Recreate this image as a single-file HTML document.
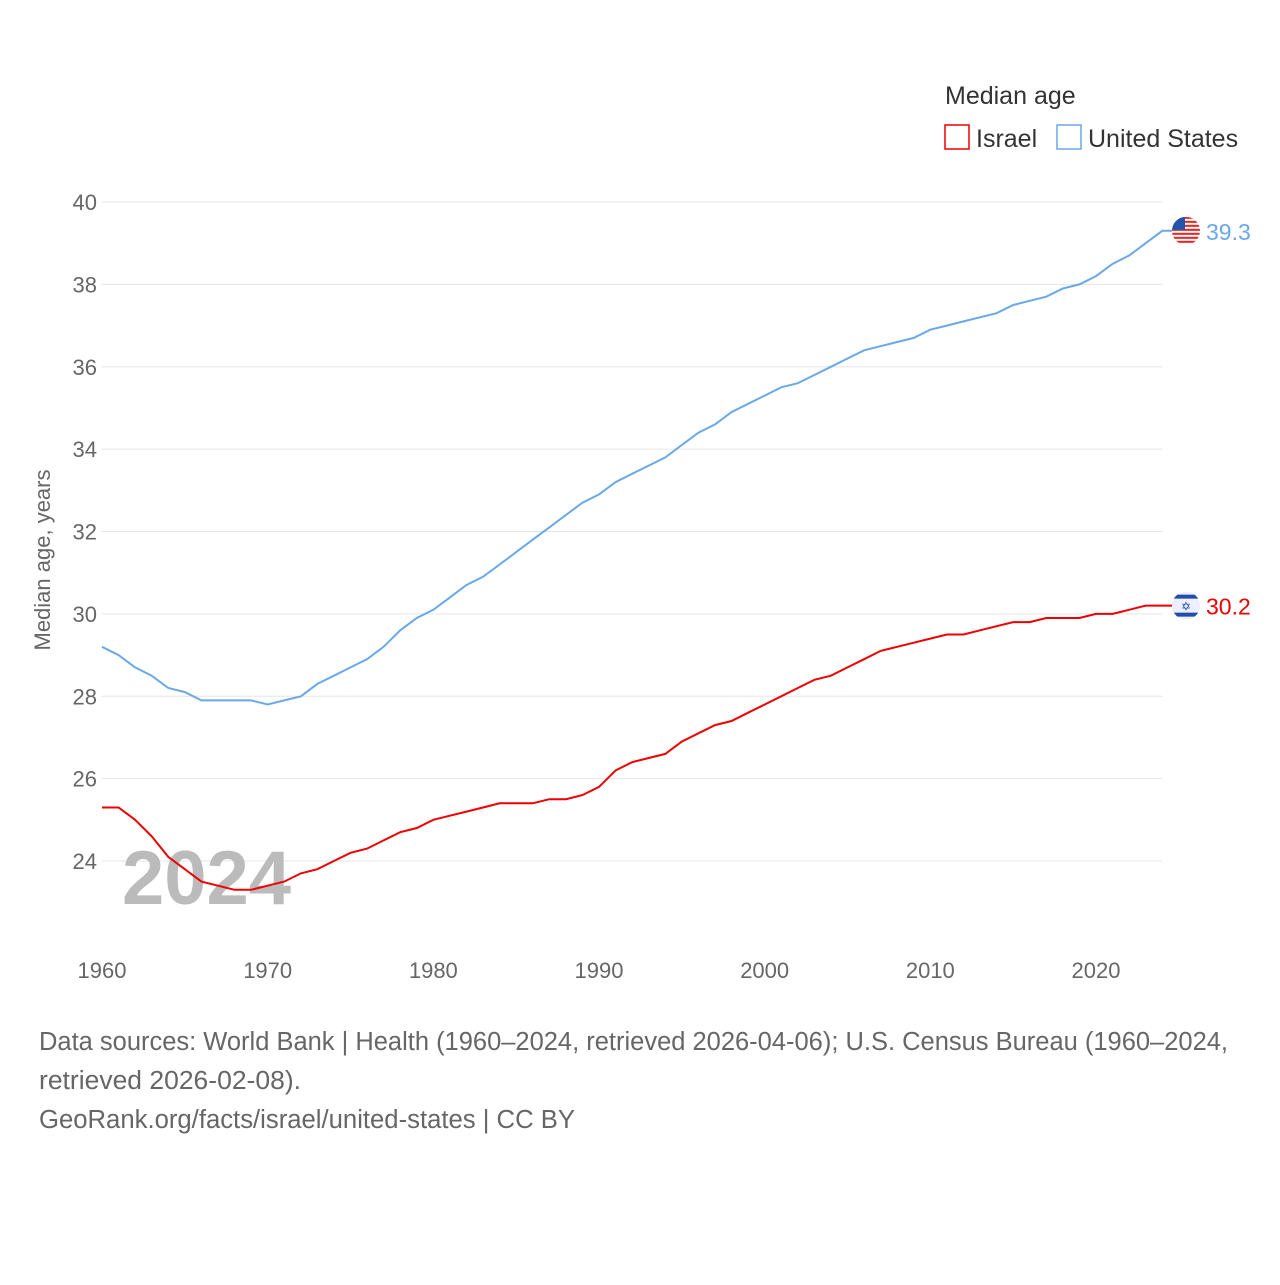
<!DOCTYPE html>
<html><head><meta charset="utf-8">
<style>
body{margin:0;background:#fff;font-family:"Liberation Sans",sans-serif;}
#wrap{position:relative;width:1280px;height:1280px;}
svg text{font-family:"Liberation Sans",sans-serif;}
</style></head>
<body><div id="wrap">
<svg id="chart" width="1280" height="1280"></svg>
</div>
<script>
const years=[];for(let y=1960;y<=2024;y++)years.push(y);
const usValues=[29.2,29.0,28.7,28.5,28.2,28.1,27.9,27.9,27.9,27.9,27.8,27.9,28.0,28.3,28.5,28.7,28.9,29.2,29.6,29.9,30.1,30.4,30.7,30.9,31.2,31.5,31.8,32.1,32.4,32.7,32.9,33.2,33.4,33.6,33.8,34.1,34.4,34.6,34.9,35.1,35.3,35.5,35.6,35.8,36.0,36.2,36.4,36.5,36.6,36.7,36.9,37.0,37.1,37.2,37.3,37.5,37.6,37.7,37.9,38.0,38.2,38.5,38.7,39.0,39.3];
const ilValues=[25.3,25.3,25.0,24.6,24.1,23.8,23.5,23.4,23.3,23.3,23.4,23.5,23.7,23.8,24.0,24.2,24.3,24.5,24.7,24.8,25.0,25.1,25.2,25.3,25.4,25.4,25.4,25.5,25.5,25.6,25.8,26.2,26.4,26.5,26.6,26.9,27.1,27.3,27.4,27.6,27.8,28.0,28.2,28.4,28.5,28.7,28.9,29.1,29.2,29.3,29.4,29.5,29.5,29.6,29.7,29.8,29.8,29.9,29.9,29.9,30.0,30.0,30.1,30.2,30.2];
const yTicks=[24,26,28,30,32,34,36,38,40];
const xTicks=[1960,1970,1980,1990,2000,2010,2020];
const NS="http://www.w3.org/2000/svg";
const svg=document.getElementById('chart');
const X=v=>102+(v-1960)*(994/60);
const Y=v=>202+(40-v)*(659/16);
function el(t,a,txt,parent){const e=document.createElementNS(NS,t);for(const k in a)e.setAttribute(k,a[k]);if(txt!=null)e.textContent=txt;(parent||svg).appendChild(e);return e;}
yTicks.forEach(t=>{
 const g=el('line',{x1:102,x2:1162,y1:Y(t),y2:Y(t),stroke:'#e6e6e6','stroke-width':1});
 
 
 const l=el('text',{x:97,y:Y(t)+8,'text-anchor':'end','font-size':22,fill:'#666'},t);
 
 
});
xTicks.forEach(t=>{
 const l=el('text',{x:X(t),y:978,'text-anchor':'middle','font-size':22,fill:'#666'},t);
 
 
});
const yr=el('text',{x:122,y:904,'font-size':76,'font-weight':'bold',fill:'#bbb'},'2024');


const yt=el('text',{x:0,y:0,'font-size':22,fill:'#666','text-anchor':'middle',transform:'translate(50,560) rotate(-90)'},'Median age, years');


function series(vals,color,name){
 let d=vals.map((v,i)=>(i?'L':'M')+X(years[i]).toFixed(1)+','+Y(v).toFixed(1)).join(' ');
 d+=' L1173,'+Y(vals[vals.length-1]).toFixed(1);
 const p=el('path',{d:d,fill:'none',stroke:color,'stroke-width':2});
 
 
}
series(usValues,'#6aa8e8','us');
series(ilValues,'#ee0000','israel');
const uy=Y(usValues[usValues.length-1]);
const iy=Y(ilValues[ilValues.length-1]);
const defs=el('defs',{});
const cpu=el('clipPath',{id:'cu'},null,defs);el('circle',{cx:1186,cy:uy,r:14},null,cpu);
const cpi=el('clipPath',{id:'ci'},null,defs);el('circle',{cx:1186,cy:iy,r:14},null,cpi);
const fu=el('g',{'clip-path':'url(#cu)'});
el('rect',{x:1172,y:uy-14,width:28,height:28,fill:'#fff'},null,fu);
[0,1,2,3,4,5,6].forEach(i=>el('rect',{x:1172,y:uy-14+i*4,width:28,height:2,fill:'#e22'},null,fu));
el('rect',{x:1172,y:uy-14,width:13,height:13,fill:'#2255aa'},null,fu);
const fi=el('g',{'clip-path':'url(#ci)'});
el('rect',{x:1172,y:iy-14,width:28,height:28,fill:'#eef'},null,fi);
[iy-11,iy+7].forEach(yy=>el('rect',{x:1172,y:yy,width:28,height:4,fill:'#1f4fa8'},null,fi));
el('text',{x:1186,y:iy+5,'text-anchor':'middle','font-size':12,fill:'#1f4fa8'},'✡',fi);
const lu=el('text',{x:1206,y:uy+9,'font-size':23,fill:'#6aa8e8'},usValues[usValues.length-1].toFixed(1));

const li=el('text',{x:1206,y:iy+9,'font-size':23,fill:'#ee0000'},ilValues[ilValues.length-1].toFixed(1));

const lt=el('text',{x:945,y:104,'font-size':25,fill:'#333'},'Median age');

const r1=el('rect',{x:945,y:125,width:24,height:24,fill:'none',stroke:'#ee0000','stroke-width':1.5});

const t1=el('text',{x:976,y:147,'font-size':25,fill:'#333'},'Israel');

const r2=el('rect',{x:1057,y:125,width:24,height:24,fill:'none',stroke:'#6aa8e8','stroke-width':1.5});

const t2=el('text',{x:1088,y:147,'font-size':25,fill:'#333'},'United States');

[['Data sources: World Bank | Health (1960–2024, retrieved 2026-04-06); U.S. Census Bureau (1960–2024,',1050,1189],['retrieved 2026-02-08).',1089,262],['GeoRank.org/facts/israel/united-states | CC BY',1128,536]].forEach((a,i)=>{
 const f=el('text',{x:39,y:a[1],'font-size':25.5,fill:'#666',textLength:a[2],lengthAdjust:'spacingAndGlyphs'},a[0]);
 
 
});
</script></body></html>
